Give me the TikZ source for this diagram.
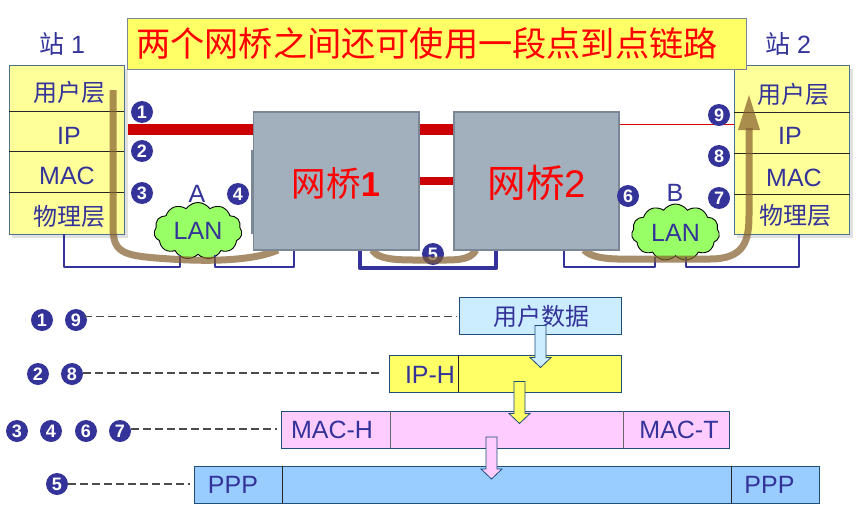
\documentclass[tikz,border=0pt]{standalone}
\usepackage{fontspec}
\setmainfont{Liberation Sans}
\newfontfamily\cjkf{Noto Sans CJK SC}
\usetikzlibrary{shapes.symbols,calc}
\definecolor{ink}{HTML}{333399}
\definecolor{ylw}{HTML}{FFFF66}
\definecolor{lyl}{HTML}{FFFF99}
\definecolor{pnk}{HTML}{FFCCFF}
\definecolor{sky}{HTML}{CCECFF}
\definecolor{blu}{HTML}{99CCFF}
\definecolor{bridgec}{HTML}{A2AFBD}
\definecolor{bridgeb}{HTML}{7B8794}
\definecolor{edgec}{HTML}{1F4E79}
\definecolor{brownc}{HTML}{845E2D}
\definecolor{barred}{HTML}{CC0000}
\definecolor{lang}{HTML}{99FF66}
\tikzset{
  x=1pt,y=-1pt,
  box/.style={draw=edgec,line width=0.9pt,inner sep=0pt,text=ink},
  stack/.style={box,fill=lyl,draw=edgec!80,minimum width=115,minimum height=169},
  layer/.style={text=ink,inner sep=0pt,font=\fontsize{25}{25}\selectfont},
  cjklayer/.style={text=ink,inner sep=0pt,font=\cjkf\fontsize{24}{24}\selectfont},
  sep/.style={line width=0.8pt,draw=black!85},
  bridge/.style={draw=bridgeb,line width=1.6pt,fill=bridgec,minimum width=165.5,minimum height=138,inner sep=0pt,text=red},
  num/.style={circle,fill=ink,text=white,inner sep=0pt,minimum size=22,font=\bfseries\fontsize{18}{18}\selectfont},
  lancloud/.style={cloud,cloud puffs=11,cloud puff arc=110,aspect=1.6,draw=black,line width=0.9pt,fill=lang,text=ink,inner sep=0pt,minimum width=88,minimum height=57,font=\fontsize{25}{25}\selectfont},
  wire/.style={draw=ink,line width=2pt,line join=round},
  wirethick/.style={draw=ink,line width=4.5pt,line join=round},
  redbar/.style={draw=barred,line width=10.5pt},
  route/.style={draw=brownc,opacity=.7,line width=7pt},
  lead/.style={draw=black!70,line width=1.2pt,dash pattern=on 8pt off 4pt},
  frame/.style={box,minimum height=37},
  farrow/.style={draw=edgec,line width=0.8pt,line join=miter},
}
\begin{document}
\begin{tikzpicture}
\useasboundingbox (0,0) rectangle (865,514);
\fill[white] (0,0) rectangle (865,514);
% stations
\fill[black!12] (12,69) rectangle (128,238);
\fill[black!12] (737,69) rectangle (853,238);
\node[stack] (st1) at (66.5,149.5) {};
\node[stack] (st2) at (792,149.5) {};
\draw[sep] (st1.west |- 0,111) -- (st1.east |- 0,111);
\draw[sep] (st1.west |- 0,151) -- (st1.east |- 0,151);
\draw[sep] (st1.west |- 0,192) -- (st1.east |- 0,192);
\draw[sep] (st2.west |- 0,112.5) -- (st2.east |- 0,112.5);
\draw[sep] (st2.west |- 0,153) -- (st2.east |- 0,153);
\draw[sep] (st2.west |- 0,194) -- (st2.east |- 0,194);
\node[cjklayer] (u1) at (69,92) {用户层};
\node[layer] (i1) at (69,136) {IP};
\node[layer] (m1) at (67,176) {MAC};
\node[cjklayer] (p1) at (69,216) {物理层};
\node[cjklayer] (u2) at (793,94) {用户层};
\node[layer] (i2) at (790,136) {IP};
\node[layer] (m2) at (794,178) {MAC};
\node[cjklayer] (p2) at (795,215) {物理层};
\node[text=ink,inner sep=0pt,font=\fontsize{25}{25}\selectfont] (s1) at (62,44) {{\cjkf 站} 1};
\node[text=ink,inner sep=0pt,font=\fontsize{25}{25}\selectfont] (s2) at (788,44) {{\cjkf 站} 2};
% title
\node[draw=bridgeb,line width=1pt,fill=ylw,minimum width=619,minimum height=51,inner sep=0pt,text=red,font=\cjkf\fontsize{34.2}{34.2}\selectfont] (title) at (436.5,43.5) {\hspace{-19pt}两个网桥之间还可使用一段点到点链路};
% clouds
\node[lancloud] (lan1) at (198,231) {LAN};
\node[lancloud] (lan2) at (675.5,232.5) {LAN};
% wiring
\coordinate (w1) at (64,267);
\coordinate (w2) at (180,267);
\coordinate (w3) at (215,267);
\coordinate (w4) at (294,267);
\coordinate (w5) at (360,268);
\coordinate (w6) at (496,268);
\coordinate (w7) at (564,267);
\coordinate (w8) at (655,267);
\coordinate (w9) at (686,267);
\coordinate (w10) at (799,267);
\draw[wire] (w1 |- st1.south) -- (w1) -- (w2) -- (w2 |- 0,255);
\draw[wire] (w3 |- 0,255) -- (w3) -- (w4) -- (w4 |- 0,250);
\draw[wire] (w7 |- 0,250) -- (w7) -- (w8) -- (w8 |- 0,257);
\draw[wire] (w9 |- 0,257) -- (w9) -- (w10) -- (w10 |- st2.south);
\draw[wirethick] (w5 |- 0,248) -- (w5) -- (w6) -- (w6 |- 0,248);
% hidden box behind bridge 1
\fill[bridgeb] (251,150) rectangle (256,234);
% number five below the route
\node[num] (n5) at (433,254) {5};
% brown route
\coordinate (ra) at (113,90);
\coordinate (rb) at (113,230);
\coordinate (rc) at (278,250);
\draw[route,line cap=butt] (ra) -- (rb) .. controls (114,254) and (125,256) .. (170,259) .. controls (215,262) and (255,260) .. (rc);
\draw[route] (372,250) .. controls (380,261) and (400,260) .. (433,260) .. controls (455,260) and (470,261) .. (476,250);
\draw[route] (584,250) .. controls (595,261) and (620,259) .. (650,259) -- (710,259) .. controls (745,259) and (749,240) .. (749,215) -- (749,128);
\fill[brownc,opacity=.7] (738,130) -- (749,95) -- (760,130) -- cycle;
% red links
\coordinate (r0) at (128,129.5);
\coordinate (r1) at (437,129.5);
\coordinate (r2) at (437,181);
\coordinate (r3) at (620,124.5);
% bridges
\draw[redbar] (r0) -- (253,129.5);
\node[bridge] (br1) at (336.2,181) {};
\node[bridge] (br2) at (536.5,181) {};
\draw[redbar] (br1.east |- r1) -- (br2.west |- r1);
\draw[draw=barred,line width=8pt] (br1.east |- r2) -- (br2.west |- r2);
\draw[draw=red!85!black,line width=0.8pt] (br2.east |- r3) -- (st2.west |- r3);
\node[inner sep=0pt,text=red,font=\fontsize{34.5}{34.5}\selectfont] (bl1) at (336,183) {{\cjkf 网桥}\textbf{1}};
\node[inner sep=0pt,text=red,font=\fontsize{38.5}{38.5}\selectfont] (bl2) at (537,183) {{\cjkf 网桥}2};
% letters
\node[layer] (la) at (197,194) {A};
\node[layer] (lb) at (675,193) {B};
% upper numbers
\node[num] (a1) at (142,112) {1};
\node[num] (a2) at (142,151) {2};
\node[num] (a3) at (142,193) {3};
\node[num] (a4) at (238,194) {4};
\node[num] (a6) at (628,196) {6};
\node[num] (a7) at (719,198) {7};
\node[num] (a8) at (719,156) {8};
\node[num] (a9) at (719,115) {9};
% frames
\node[frame,fill=sky,minimum width=162] (fu) at (540.8,315.5) {};
\node[cjklayer] (fut) at (541,316) {用户数据};
\node[frame,fill=ylw,minimum width=232.5] (fi) at (505.2,373.5) {};
\node[layer] (fit) at (430,375) {IP-H};
\node[frame,fill=pnk,minimum width=448] (fm) at (505.8,429.5) {};
\node[layer] (fmh) at (332,430) {MAC-H};
\node[layer] (fmt) at (679,430) {MAC-T};
\node[frame,fill=blu,minimum width=625.5] (fp) at (506.8,484.5) {};
\node[layer] (fph) at (233,485) {PPP};
\node[layer] (fpt) at (769.5,485) {PPP};
\draw[line width=0.9pt,draw=black!85] (fi.north -| 458,0) -- (fi.south -| 458,0);
\draw[line width=0.9pt,draw=black!60] (fm.north -| 390,0) -- (fm.south -| 390,0);
\draw[line width=0.9pt,draw=black!60] (fm.north -| 623,0) -- (fm.south -| 623,0);
\draw[line width=0.9pt,draw=black!85] (fp.north -| 282,0) -- (fp.south -| 282,0);
\draw[line width=0.9pt,draw=black!85] (fp.north -| 731,0) -- (fp.south -| 731,0);
% block arrows
\draw[farrow,fill=sky] (535,325.5) -- (546,325.5) -- (546,357.5) -- (551,357.5) -- (540.5,367.5) -- (530,357.5) -- (535,357.5) -- cycle;
\draw[farrow,fill=ylw] (514,381.5) -- (525,381.5) -- (525,413.5) -- (530,413.5) -- (519.5,423.5) -- (509,413.5) -- (514,413.5) -- cycle;
\draw[farrow,fill=pnk] (486,437) -- (497,437) -- (497,469) -- (502,469) -- (491.5,479) -- (481,469) -- (486,469) -- cycle;
% lower numbers
\node[num] (b1) at (42,320) {1};
\node[num] (b9) at (76,320) {9};
\node[num] (b2) at (38,374) {2};
\node[num] (b8) at (72,374) {8};
\node[num] (b3) at (17,431) {3};
\node[num] (b4) at (51,431) {4};
\node[num] (b6) at (86,431) {6};
\node[num] (b7) at (120,431) {7};
\node[num] (b5) at (57,484) {5};
% leaders
\coordinate (e1) at (457,316.5);
\coordinate (e2) at (382,373);
\coordinate (e3) at (277,429);
\coordinate (e4) at (190,484);
\draw[lead] (b9.north east |- e1) -- (e1);
\draw[lead] (b8.east |- e2) -- (e2);
\draw[lead] (b7.east |- e3) -- (e3);
\draw[lead] (b5.east |- e4) -- (e4);
\end{tikzpicture}
\end{document}
